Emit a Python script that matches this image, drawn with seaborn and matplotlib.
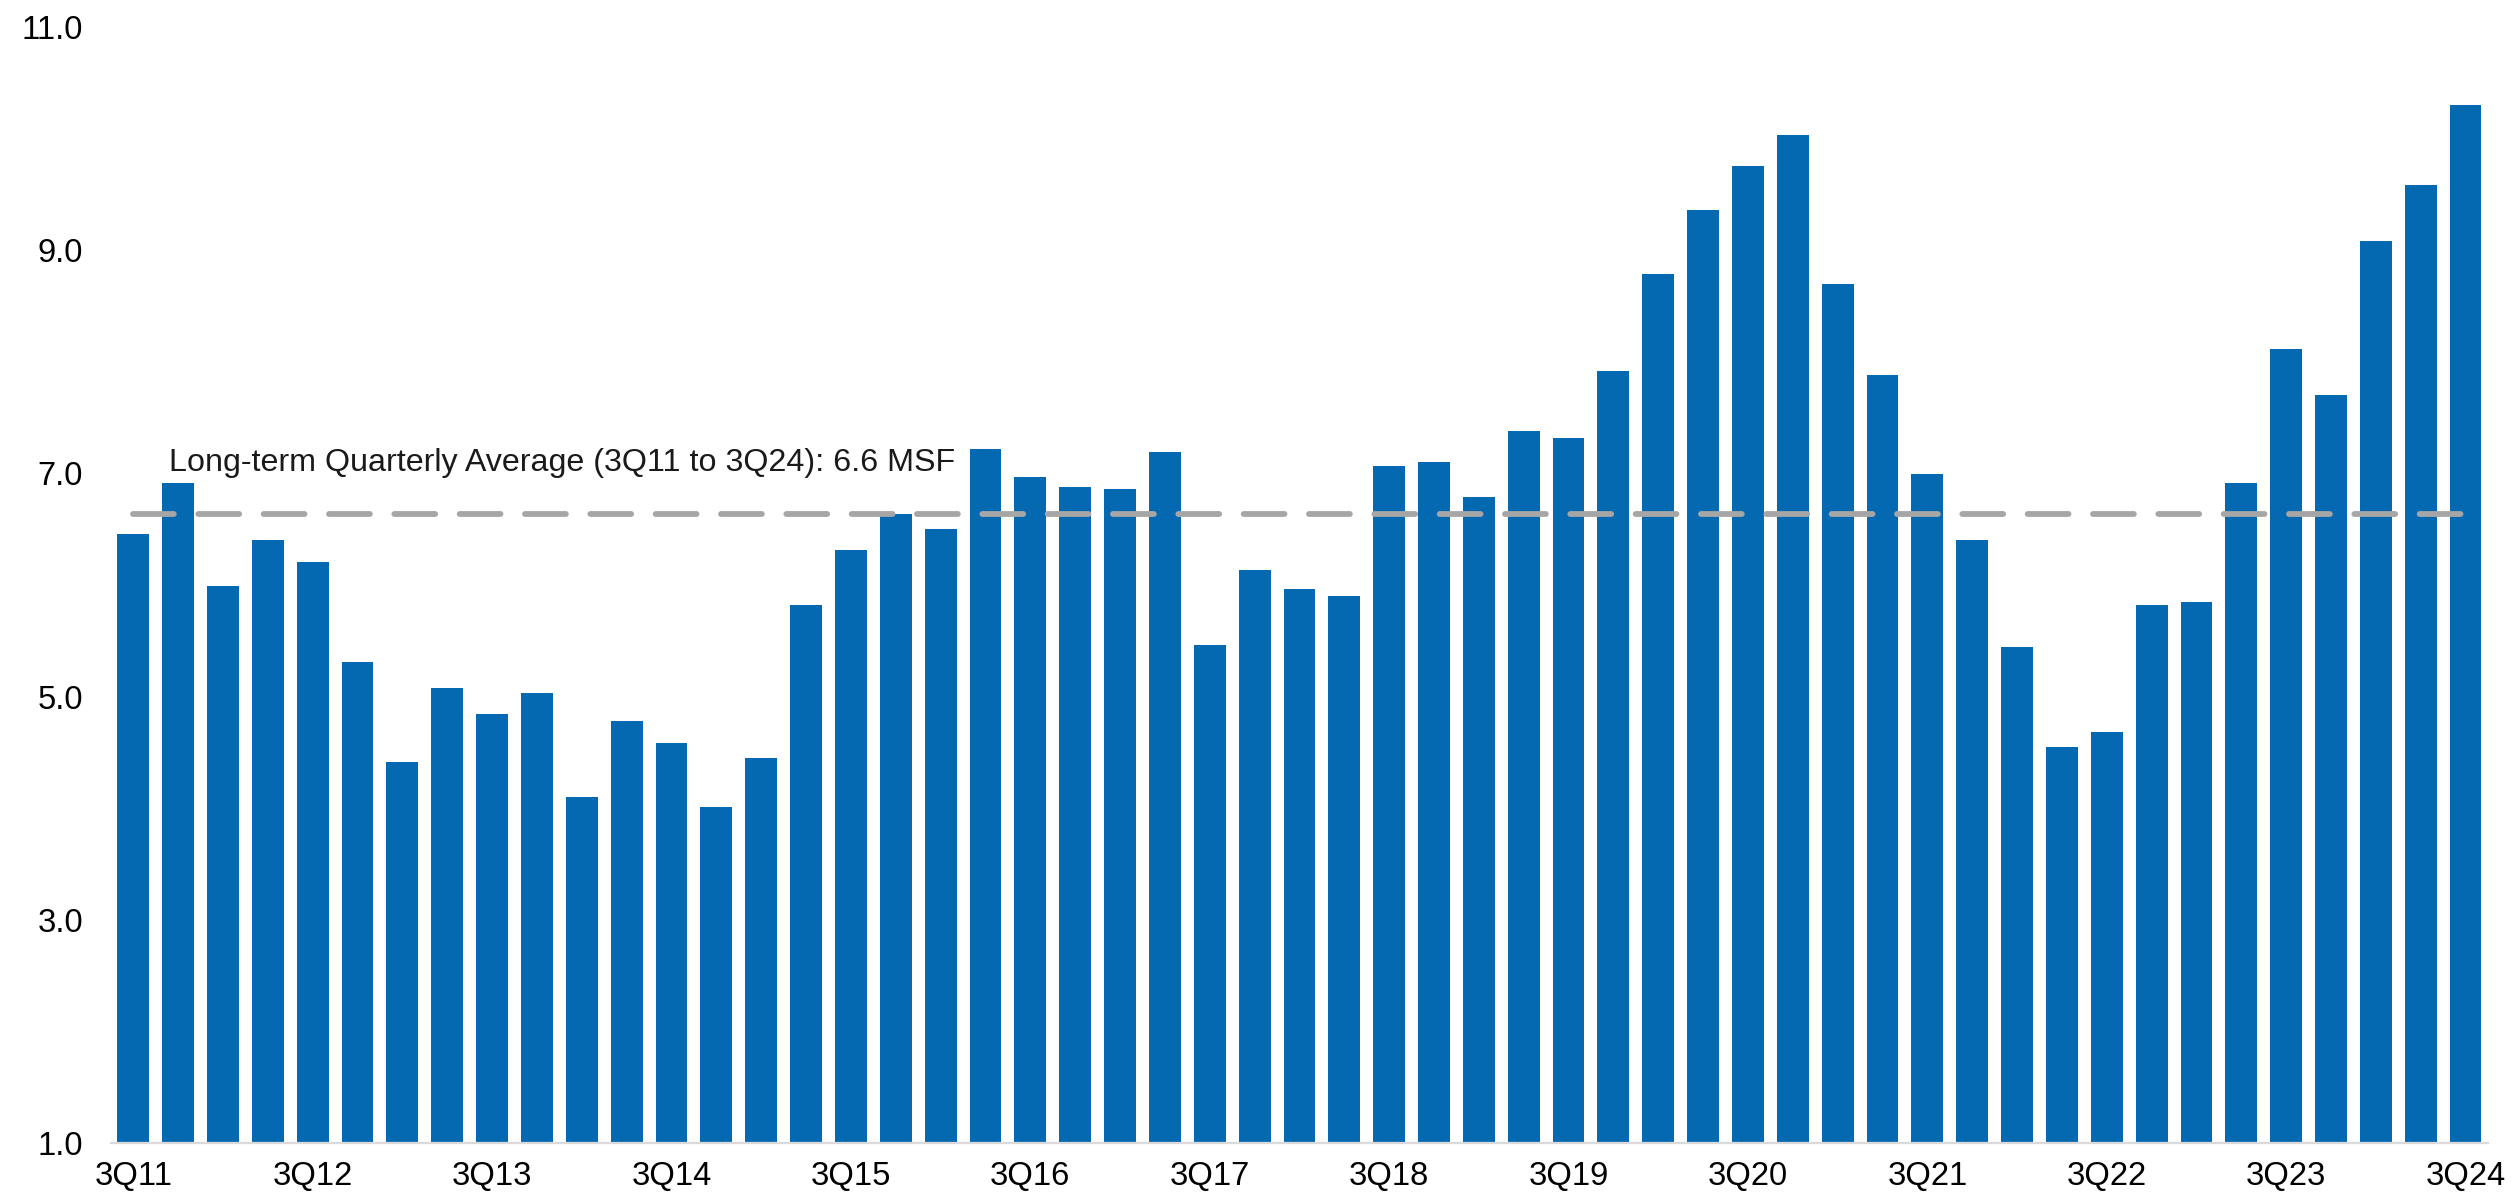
import matplotlib
matplotlib.use("Agg")
import matplotlib.pyplot as plt
import seaborn as sns
import pandas as pd

quarters = [
    "3Q11", "4Q11", "1Q12", "2Q12", "3Q12", "4Q12", "1Q13", "2Q13", "3Q13", "4Q13",
    "1Q14", "2Q14", "3Q14", "4Q14", "1Q15", "2Q15", "3Q15", "4Q15", "1Q16", "2Q16",
    "3Q16", "4Q16", "1Q17", "2Q17", "3Q17", "4Q17", "1Q18", "2Q18", "3Q18", "4Q18",
    "1Q19", "2Q19", "3Q19", "4Q19", "1Q20", "2Q20", "3Q20", "4Q20", "1Q21", "2Q21",
    "3Q21", "4Q21", "1Q22", "2Q22", "3Q22", "4Q22", "1Q23", "2Q23", "3Q23", "4Q23",
    "1Q24", "2Q24", "3Q24",
]
values = [
    6.46, 6.91, 5.99, 6.40, 6.21, 5.31, 4.41, 5.08, 4.84, 5.03,
    4.10, 4.78, 4.58, 4.01, 4.45, 5.82, 6.31, 6.64, 6.50, 7.22,
    6.97, 6.88, 6.86, 7.19, 5.46, 6.13, 5.96, 5.90, 7.07, 7.10,
    6.79, 7.38, 7.32, 7.92, 8.79, 9.36, 9.75, 10.03, 8.70, 7.88,
    6.99, 6.40, 5.44, 4.55, 4.68, 5.82, 5.85, 6.91, 8.11, 7.70,
    9.08, 9.58, 10.30,
]
average = 6.64
avg_label = "Long-term Quarterly Average (3Q11 to 3Q24): 6.6 MSF"
y_ticks = [1.0, 3.0, 5.0, 7.0, 9.0, 11.0]
shown_labels = ["3Q11", "3Q12", "3Q13", "3Q14", "3Q15", "3Q16", "3Q17",
                "3Q18", "3Q19", "3Q20", "3Q21", "3Q22", "3Q23", "3Q24"]

sns.set_style("white")
plt.rcParams["font.family"] = ["Liberation Sans", "DejaVu Sans"]

df = pd.DataFrame({"quarter": quarters, "value": values})

fig = plt.figure(figsize=(12.6, 5.99), dpi=200)
ax = fig.add_axes([0.044, 0.0459, 0.9873 - 0.044, 0.9775 - 0.0459])

sns.barplot(data=df, x="quarter", y="value", color="#0569B2", saturation=1,
            width=0.71, ax=ax, edgecolor="none")

n = len(quarters)
ax.plot([0, n - 1], [average, average], color="#A6A6A6", lw=2.1,
        dashes=(7, 4.2), dash_capstyle="round", zorder=3)
ax.text(0.8, 7.02, avg_label, ha="left", va="baseline", fontsize=11.6,
        color="#1A1A1A")

ax.set_xlim(-0.5, n - 0.5)
ax.set_ylim(1.0, 11.0)
ax.set_yticks(y_ticks)
ax.set_yticklabels([f"{t:.1f}" for t in y_ticks])
idx = [quarters.index(q) for q in shown_labels]
ax.set_xticks(idx)
ax.set_xticklabels(shown_labels)
ax.set_xlabel("")
ax.set_ylabel("")

for s in ["left", "top", "right"]:
    ax.spines[s].set_visible(False)
ax.spines["bottom"].set_color("#D9D9D9")
ax.spines["bottom"].set_linewidth(0.8)
ax.tick_params(axis="both", length=0, labelsize=11.8, colors="#000000")
ax.tick_params(axis="y", pad=10)
ax.tick_params(axis="x", pad=6.5)

fig.savefig("out.png", dpi=200)
